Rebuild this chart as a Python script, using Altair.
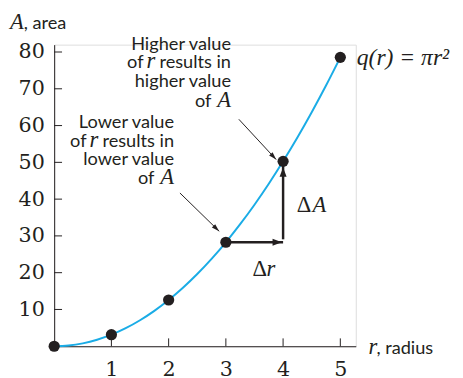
import altair as alt
import pandas as pd

# ---- data ----
r_curve = [0, 0.25, 0.5, 0.75, 1, 1.25, 1.5, 1.75, 2, 2.25, 2.5, 2.75, 3,
           3.25, 3.5, 3.75, 4, 4.25, 4.5, 4.75, 5]
A_curve = [0, 0.2, 0.79, 1.77, 3.14, 4.91, 7.07, 9.62, 12.57, 15.9, 19.63,
           23.76, 28.27, 33.18, 38.48, 44.18, 50.27, 56.75, 63.62, 70.88, 78.54]
r_points = [0, 1, 2, 3, 4, 5]
A_points = [0, 3.14, 12.57, 28.27, 50.27, 78.54]
x_ticks = [1, 2, 3, 4, 5]
y_ticks = [10, 20, 30, 40, 50, 60, 70, 80]

INK = "#231F20"
BLUE = "#1AACE6"
SERIF = "Liberation Serif"
DIGITS = "DejaVu Serif"
SANS = "Lato"

curve_df = pd.DataFrame({"r": r_curve, "A": A_curve})
pts_df = pd.DataFrame({"r": r_points, "A": A_points})
xt_df = pd.DataFrame({"v": x_ticks})
yt_df = pd.DataFrame({"v": y_ticks})
one = pd.DataFrame({"a": [0]})

xs = alt.Scale(domain=[0, 5.27], nice=False, zero=False)
ys = alt.Scale(domain=[0, 82], nice=False, zero=False)

x_axis = alt.Axis(values=x_ticks, format="d", title=None, grid=False, ticks=False,
                  labelFont=DIGITS, labelFontSize=21, labelColor=INK,
                  labelPadding=13, domainColor=INK, domainWidth=1)
y_axis = alt.Axis(values=y_ticks, format="d", title=None, grid=False, ticks=False,
                  labelFont=DIGITS, labelFontSize=21, labelColor=INK,
                  labelPadding=10, domainColor=INK, domainWidth=1)

curve = alt.Chart(curve_df).mark_line(color=BLUE, strokeWidth=2, interpolate="monotone").encode(
    x=alt.X("r:Q", scale=xs, axis=x_axis),
    y=alt.Y("A:Q", scale=ys, axis=y_axis),
)

points = alt.Chart(pts_df).mark_point(filled=True, color=INK, size=130, opacity=1).encode(
    x=alt.X("r:Q", scale=xs), y=alt.Y("A:Q", scale=ys))

xticks = alt.Chart(xt_df).mark_rule(color=INK, strokeWidth=1).encode(
    x=alt.X("v:Q", scale=xs), y=alt.value(307), y2=alt.value(299))
yticks = alt.Chart(yt_df).mark_rule(color=INK, strokeWidth=1).encode(
    y=alt.Y("v:Q", scale=ys), x=alt.value(0), x2=alt.value(8))

# delta arrows, built from the point values at r=3 and r=4
seg_df = pd.DataFrame({"r0": [r_points[3]], "r1": [r_points[4]],
                       "a0": [A_points[3]], "a1": [A_points[4]]})
dr_line = alt.Chart(seg_df).mark_rule(color=INK, strokeWidth=2.5).encode(
    x=alt.X("r0:Q", scale=xs), x2="r1:Q", y=alt.Y("a0:Q", scale=ys))
dA_line = alt.Chart(seg_df).mark_rule(color=INK, strokeWidth=2.5, yOffset=-3).encode(
    x=alt.X("r1:Q", scale=xs), y=alt.Y("a0:Q", scale=ys), y2="a1:Q")

HEAD = "M1,0 L-1,-0.75 L-1,0.75 Z"
dr_head = alt.Chart(seg_df).mark_point(shape=HEAD, filled=True, color=INK, opacity=1,
                                       size=90, angle=0, xOffset=-6).encode(
    x=alt.X("r1:Q", scale=xs), y=alt.Y("a0:Q", scale=ys))
dA_head = alt.Chart(seg_df).mark_point(shape=HEAD, filled=True, color=INK, opacity=1,
                                       size=90, angle=270, yOffset=11).encode(
    x=alt.X("r1:Q", scale=xs), y=alt.Y("a1:Q", scale=ys))

# thin pointer arrows
def pointer(x0, y0, x1, y1, hx, hy, ang):
    line = alt.Chart(one).mark_rule(color=INK, strokeWidth=1).encode(
        x=alt.value(x0), y=alt.value(y0), x2=alt.value(x1), y2=alt.value(y1))
    head = alt.Chart(one).mark_point(shape="M1,0 L-1,-0.6 L-1,0.6 Z", filled=True,
                                     color=INK, opacity=1, size=64, angle=ang).encode(
        x=alt.value(hx), y=alt.value(hy))
    return [line, head]

arrows = pointer(188, 76, 226, 117, 223.3, 114.1, 47) + \
         pointer(128, 151, 168, 190, 165.1, 187.2, 44)


def txt(s, x, y, font=SANS, size=18.5, align="left", style="normal"):
    return alt.Chart(one).mark_text(text=s, align=align, baseline="alphabetic",
                                    font=font, fontSize=size, fontStyle=style,
                                    color=INK).encode(x=alt.value(x), y=alt.value(y))

IT = 23
texts = [
    txt("A", -45, -16, SERIF, IT, style="italic"),
    txt(", area", -31, -16),
    # upper annotation
    txt("Higher value", 180, 5, align="right"),
    txt("results in", 180, 24, align="right"),
    txt("r", 103, 24, SERIF, IT, align="right", style="italic"),
    txt("of", 91, 24, align="right"),
    txt("higher value", 180, 43.5, align="right"),
    txt("A", 180, 63, SERIF, IT, align="right", style="italic"),
    txt("of", 160, 63, align="right"),
    # lower annotation
    txt("Lower value", 122, 84.5, align="right"),
    txt("results in", 122, 104, align="right"),
    txt("r", 45, 104, SERIF, IT, align="right", style="italic"),
    txt("of", 33, 104, align="right"),
    txt("lower value", 122, 123, align="right"),
    txt("A", 122, 142, SERIF, IT, align="right", style="italic"),
    txt("of", 102, 142, align="right"),
    # formula
    txt("q(r) = πr²", 308, 21, SERIF, 24, style="italic"),
    # deltas
    txt("Δ", 247, 170, SERIF, IT),
    txt("A", 263, 170, SERIF, IT, style="italic"),
    txt("Δ", 202, 236, SERIF, IT),
    txt("r", 216, 236, SERIF, IT, style="italic"),
    # x title
    txt("r", 320, 315, SERIF, IT, style="italic"),
    txt(", radius", 328, 315),
]

chart = alt.layer(curve, xticks, yticks, dr_line, dA_line, dr_head, dA_head,
                  *arrows, points, *texts).properties(
    width=307, height=307,
    padding={"left": 47, "top": 34, "right": 101, "bottom": 28},
    autosize=alt.AutoSizeParams(type="none"),
).configure_view(stroke=None).configure(background="white")

chart.save("out.html", embed_options={"renderer": "svg", "actions": False})
